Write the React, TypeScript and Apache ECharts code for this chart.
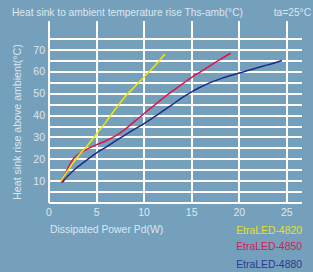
import React, { useEffect, useRef } from "react";
import * as echarts from "echarts";

const seriesNames = ["EtraLED-4820", "EtraLED-4850", "EtraLED-4880"];
const lineColors = ["#f2e600", "#e0124c", "#1e2a8a"];
const legendColors = ["#e6e02a", "#d8185a", "#2a3a92"];

const led4820: [number, number][] = [
  [1.2, 9.6], [2, 15], [3, 21], [4, 26], [5, 31.5], [6, 37], [7, 43],
  [8, 48.5], [9, 53], [10, 57.5], [11, 62], [12.2, 68],
];
const led4850: [number, number][] = [
  [1.3, 9.3], [2, 16], [2.5, 19.8], [3, 22], [4, 24.6], [5, 26.6], [6, 28.4],
  [7, 30.6], [8, 33.6], [9, 37.2], [10, 40.8], [11, 44.3], [12, 47.8],
  [13, 51.1], [14, 54.2], [15, 57.3], [16, 60], [17, 62.8], [18, 65.5], [19.1, 68.3],
];
const led4880: [number, number][] = [
  [1.4, 9.3], [2, 12.4], [3, 16.4], [4, 19.7], [5, 22.9], [6, 25.5], [7, 28.3],
  [8, 31], [9, 33.7], [10, 36.2], [11, 39], [12, 42], [13, 45], [14, 48],
  [15, 50.7], [16, 53], [17, 55], [18, 56.6], [19, 58], [20, 59.3], [21, 60.5],
  [22, 61.8], [23, 63], [24.5, 65],
];
const seriesData = [led4820, led4850, led4880];

const titleText = "Heat sink to ambient temperature rise Ths-amb(°C)";
const ambientText = "ta=25°C";
const xName = "Dissipated Power Pd(W)";
const yName = "Heat sink rise above ambient(°C)";

const xMax = 26.6;
const yMax = 83;
const legendTops = [224, 240, 258];

export default function App() {
  const ref = useRef<HTMLDivElement>(null);
  useEffect(() => {
    if (!ref.current) return;
    const chart = echarts.init(ref.current, undefined, { renderer: "svg" });
    const font = "'Liberation Sans', Arial, sans-serif";
    const txt = "#dde7ef";
    const yLineColors: string[] = [];
    for (let v = 0; v <= 85; v += 5) yLineColors.push(v === 80 ? "rgba(0,0,0,0)" : "#ffffff");
    chart.setOption({
      animation: false,
      backgroundColor: "#74a0bb",
      textStyle: { fontFamily: font },
      title: [
        { text: titleText, left: 12, top: 7, padding: 0, textStyle: { color: txt, fontSize: 10.2, fontWeight: "normal", fontFamily: font } },
        { text: ambientText, right: 2, top: 7, padding: 0, textStyle: { color: txt, fontSize: 10.2, fontWeight: "normal", fontFamily: font } },
        { text: xName, left: 50, top: 224, padding: 0, textStyle: { color: txt, fontSize: 10.4, fontWeight: "normal", fontFamily: font } },
      ],
      legend: seriesNames.map((n, i) => ({
        data: [{ name: n, icon: "none", textStyle: { color: legendColors[i] } }],
        orient: "vertical",
        right: 6,
        top: legendTops[i],
        padding: 0,
        itemWidth: 4,
        itemHeight: 12,
        align: "right",
        textStyle: { fontSize: 10.4, fontFamily: font },
      })),
      grid: { left: 49, right: 11, top: 21, bottom: 69 },
      xAxis: {
        type: "value",
        min: 0,
        max: xMax,
        interval: 5,
        axisLine: { show: false },
        axisTick: { show: false },
        axisLabel: {
          color: txt, fontSize: 10.5, margin: 3, fontFamily: font,
          showMaxLabel: false,
          formatter: (v: number) => (v % 5 === 0 ? String(v) : ""),
        },
        splitLine: { show: true, showMaxLine: false, lineStyle: { color: "#ffffff", width: 2 } },
      },
      yAxis: {
        type: "value",
        min: 0,
        max: yMax,
        interval: 5,
        name: yName,
        nameLocation: "middle",
        nameGap: 22,
        nameTextStyle: { color: txt, fontSize: 10.6, fontFamily: font, padding: [0, 20, 0, 0] },
        axisLine: { show: false },
        axisTick: { show: false },
        axisLabel: {
          color: txt, fontSize: 10.5, margin: 4, fontFamily: font,
          showMaxLabel: false,
          formatter: (v: number) => (v % 10 === 0 && v > 0 && v <= 70 ? String(v) : ""),
        },
        splitLine: { show: true, showMaxLine: false, lineStyle: { color: yLineColors, width: 2 } },
      },
      series: seriesData.map((d, i) => ({
        name: seriesNames[i],
        type: "line",
        data: d,
        smooth: 0.3,
        showSymbol: false,
        symbol: "none",
        color: lineColors[i],
        lineStyle: { color: lineColors[i], width: 1.5 },
        z: 3 + (2 - i),
      })),
    });
    return () => chart.dispose();
  }, []);
  return <div ref={ref} style={{ position: "fixed", left: 0, top: 0, width: 313, height: 272 }} />;
}
